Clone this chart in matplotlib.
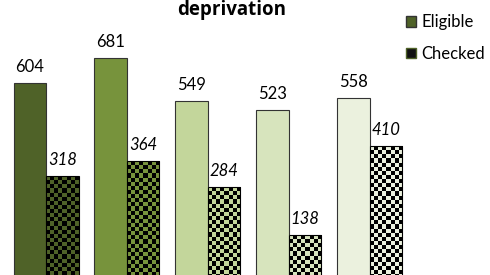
import numpy as np
import matplotlib
matplotlib.use("Agg")
import matplotlib.pyplot as plt
from matplotlib.colors import ListedColormap
from matplotlib.patches import Patch

plt.rcParams["font.family"] = ["Lato", "DejaVu Sans"]

# data
groups = ["1", "2", "3", "4", "5"]
eligible = [604, 681, 549, 523, 558]
checked = [318, 364, 284, 138, 410]
shades = ["#4F6228", "#77933C", "#C3D69B", "#D7E4BD", "#EBF1DE"]

fig = plt.figure(figsize=(4.9, 2.75), dpi=100)
ax = fig.add_axes([5.6 / 490, 0, 404.4 / 490, 1])
ax.set_xlim(-0.5, 4.5)
ax.set_ylim(14, 861)
ax.axis("off")

x = np.arange(len(groups))
w = 0.402

bars_e = ax.bar(x - w / 2, eligible, w, color=shades, edgecolor="#333333", linewidth=0.8)
bars_c = ax.bar(x + w / 2, checked, w, color="none", edgecolor="black", linewidth=0.8, zorder=3)

# checkerboard fill for the "checked" bars (black + group shade)
px_per_unit = ax.transData.transform((0, 1))[1] - ax.transData.transform((0, 0))[1]
cell = 4.1 / px_per_unit
for b, col in zip(bars_c, shades):
    x0, h, bw = b.get_x(), b.get_height(), b.get_width()
    ny = int(np.ceil(h / cell))
    nx = 8
    grid = (np.add.outer(np.arange(ny), np.arange(nx)) % 2)
    im = ax.imshow(grid, cmap=ListedColormap([col, "black"]), extent=(x0, x0 + bw, h - ny * cell, h),
                   origin="upper", aspect="auto", interpolation="nearest", zorder=2)
    im.set_clip_path(b)

for b, v in zip(bars_e, eligible):
    ax.annotate(str(v), (b.get_x() + b.get_width() / 2, v), xytext=(0, 8), textcoords="offset points",
                ha="center", va="baseline", fontsize=12, annotation_clip=False)
for b, v in zip(bars_c, checked):
    ax.annotate(str(v), (b.get_x() + b.get_width() / 2, v), xytext=(0, 8), textcoords="offset points",
                ha="center", va="baseline", fontsize=12, style="italic", annotation_clip=False)

fig.text(232 / 490, 1 - 15 / 275, "deprivation", ha="center", va="baseline", fontsize=13.5,
         fontweight="bold", family=["Open Sans", "DejaVu Sans"])

handles = [Patch(facecolor="#4F6228", edgecolor="#333333"),
           Patch(facecolor="#111111", edgecolor="#4F6228")]
ax.legend(handles, ["Eligible", "Checked"], loc="upper left", bbox_to_anchor=(406 / 490, 1 - 14.5 / 275),
          bbox_transform=fig.transFigure, frameon=False, fontsize=12, handlelength=0.6,
          handleheight=0.6, handletextpad=0.3, labelspacing=0.92, borderpad=0, borderaxespad=0)

fig.savefig("out.png", dpi=100)
